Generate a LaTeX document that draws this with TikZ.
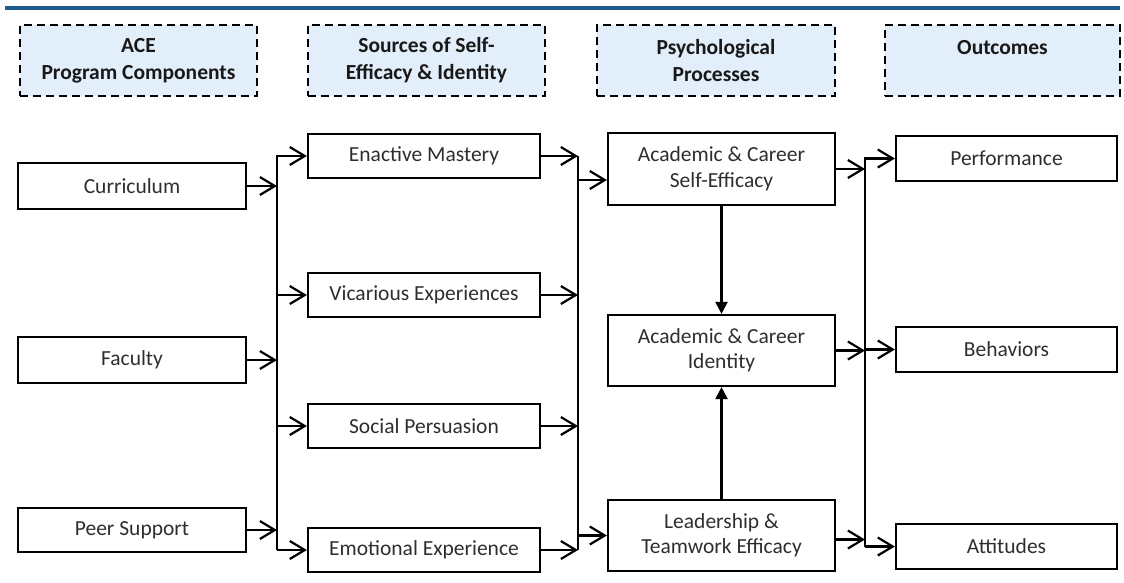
\documentclass[tikz,border=0pt]{standalone}
\usepackage{fontspec}
\setmainfont{Carlito}
\usetikzlibrary{arrows.meta}
\definecolor{rulecol}{HTML}{1F5A8C}
\definecolor{hdrfill}{HTML}{E2EEF9}
\definecolor{txt}{HTML}{2E2E2E}
\tikzset{
  hdr/.style={draw=black, line width=2.2pt, dash pattern=on 8pt off 5pt, fill=hdrfill,
    minimum height=71pt, align=center, font=\fontsize{21.5}{27}\selectfont\bfseries, text=black!90},
  box/.style={draw=black, line width=2.2pt, align=center, text=txt,
    font=\fontsize{21.5}{25.5}\selectfont},
  arr/.style={line width=2.2pt, -{Straight Barb[length=15pt,width=18pt,line width=2.2pt]}},
  tri/.style={line width=2.2pt, -{Triangle[length=12pt,width=12pt]}},
  bus/.style={line width=2.2pt}
}
\begin{document}
\begin{tikzpicture}[x=1pt,y=-1pt]
\useasboundingbox (0,0) rectangle (1124,582);
% title rule
\draw[rulecol, line width=4pt] (5,8) -- (1120,8);

% column headers
\node[hdr, minimum width=237pt] (h1) at (138.5,60.5) {ACE\\Program Components};
\node[hdr, minimum width=237pt] (h2) at (426.5,60.5) {Sources of Self-\\Efficacy \& Identity};
\node[hdr, minimum width=238pt] (h3) at (716,60.5) {Psychological\\Processes};
\node[hdr, minimum width=235pt] (h4) at (1002.5,60.5) {Outcomes\\\mbox{}};

% program components
\node[box, minimum width=228pt, minimum height=46pt] (cur)  at (132,186) {Curriculum};
\node[box, minimum width=228pt, minimum height=46pt] (fac)  at (132,360) {Faculty};
\node[box, minimum width=228pt, minimum height=44pt] (peer) at (132,530) {Peer Support};

% sources of self-efficacy
\node[box, minimum width=232pt, minimum height=44pt] (enact) at (424,156) {Enactive Mastery};
\node[box, minimum width=232pt, minimum height=44pt] (vic)   at (424,295) {Vicarious Experiences};
\node[box, minimum width=232pt, minimum height=44pt] (soc)   at (424,426) {Social Persuasion};
\node[box, minimum width=232pt, minimum height=44pt] (emot)  at (424,550) {Emotional Experience};

% psychological processes
\node[box, minimum width=227pt, minimum height=72pt] (psy)   at (721.5,169) {Academic \& Career\\Self-Efficacy};
\node[box, minimum width=227pt, minimum height=71pt] (ident) at (721.5,350.5) {Academic \& Career\\Identity};
\node[box, minimum width=227pt, minimum height=71pt] (lead)  at (721.5,535.5) {Leadership \&\\Teamwork Efficacy};

% outcomes
\node[box, minimum width=221pt, minimum height=45pt] (perf) at (1006.5,158.5) {Performance};
\node[box, minimum width=221pt, minimum height=45pt] (beh)  at (1006.5,349.5) {Behaviors};
\node[box, minimum width=221pt, minimum height=45pt] (att)  at (1006.5,546.5) {Attitudes};

% bus positions
\coordinate (b1) at (277,0);
\coordinate (b2) at (578,0);
\coordinate (b3) at (865,0);
\coordinate (psyin) at ([yshift=-11pt]psy.west);
\coordinate (leadout) at ([yshift=-4pt]lead.east);

% components -> sources
\draw[arr] (cur.east) -- (cur.east -| b1);
\draw[arr] (fac.east) -- (fac.east -| b1);
\draw[arr] (peer.east) -- (peer.east -| b1);
\draw[arr] (emot.west -| b1) -- (enact.west -| b1) -- (enact.west);
\draw[arr] (vic.west -| b1) -- (vic.west);
\draw[arr] (soc.west -| b1) -- (soc.west);
\draw[arr] (emot.west -| b1) -- (emot.west);

% sources -> processes
\draw[bus] (enact.east -| b2) -- (emot.east -| b2);
\draw[arr] (enact.east) -- (enact.east -| b2);
\draw[arr] (vic.east) -- (vic.east -| b2);
\draw[arr] (soc.east) -- (soc.east -| b2);
\draw[arr] (emot.east) -- (emot.east -| b2);
\draw[arr] (psyin -| b2) -- (psyin);
\draw[arr] (lead.west -| b2) -- (lead.west);

% between processes
\draw[tri] (psy.south) -- (ident.north);
\draw[tri] (lead.north) -- (ident.south);

% processes -> outcomes
\draw[arr] (psy.east) -- (psy.east -| b3);
\draw[arr] (ident.east) -- (ident.east -| b3);
\draw[arr] (leadout) -- (leadout -| b3);
\draw[arr] (att.west -| b3) -- (perf.west -| b3) -- (perf.west);
\draw[arr] (beh.west -| b3) -- (beh.west);
\draw[arr] (att.west -| b3) -- (att.west);
\end{tikzpicture}
\end{document}
